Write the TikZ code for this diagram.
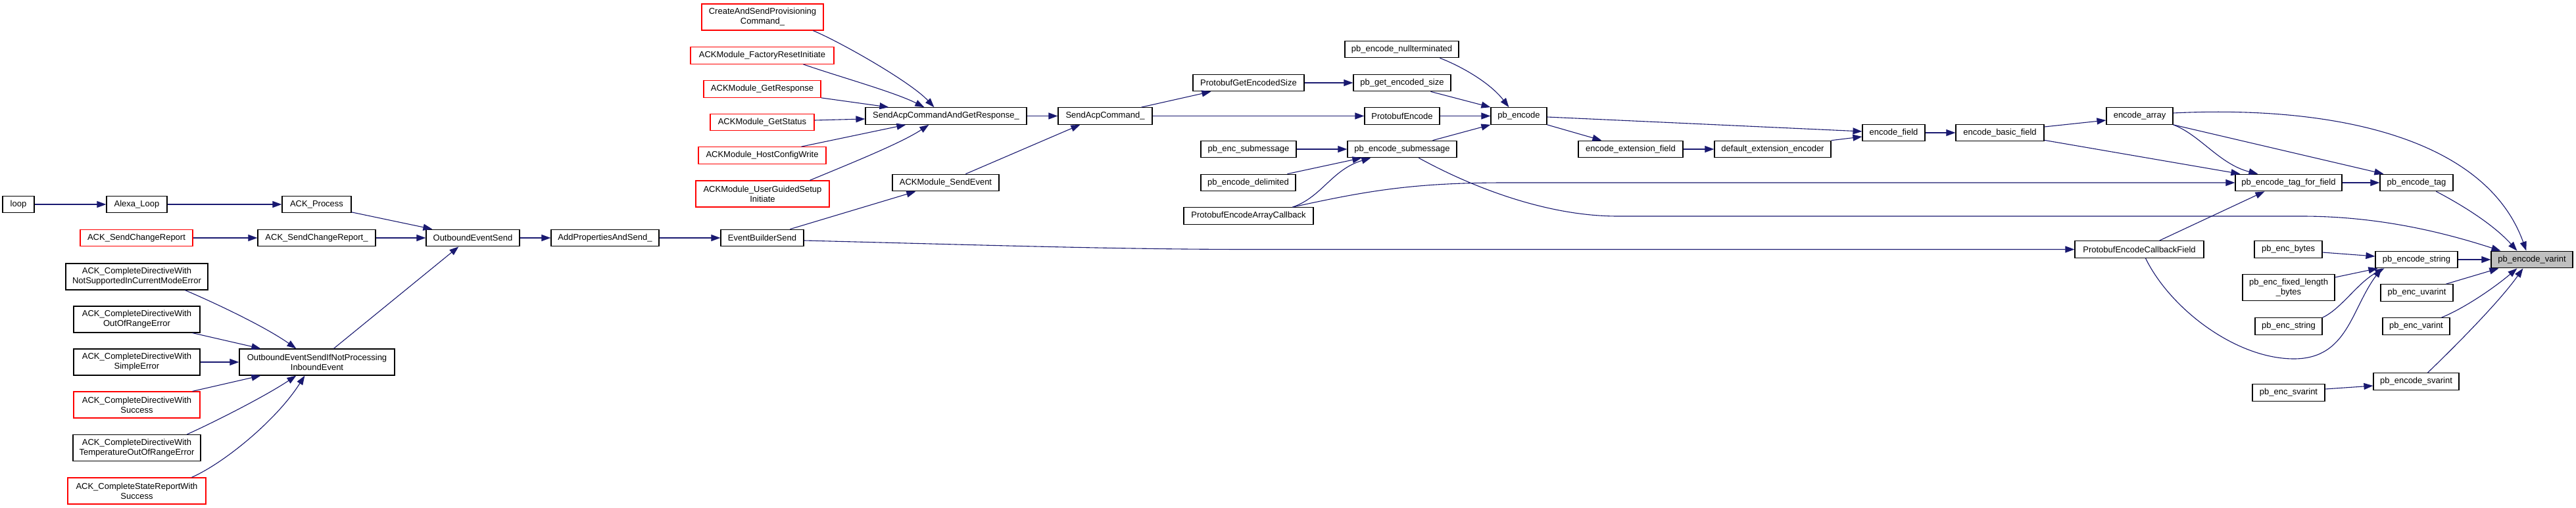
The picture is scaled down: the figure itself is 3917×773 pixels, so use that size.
\documentclass[tikz,border=0pt]{standalone}
\usepackage{fontspec}
\setmainfont{Liberation Sans}
\usetikzlibrary{arrows.meta}
\definecolor{edgeblue}{RGB}{25,25,112}
\definecolor{nodegray}{RGB}{191,191,191}
\begin{document}
\begin{tikzpicture}[x=1pt,y=-1pt,
  box/.style={draw=black,fill=white,line width=1.2pt,inner sep=0pt,font=\fontsize{13}{15}\selectfont,align=center,minimum height=25.5pt},
  redbox/.style={box,draw=red},
  tall/.style={minimum height=40pt},
  rootbox/.style={box,fill=nodegray},
  caller/.style={draw=edgeblue,line width=1.1pt,-{Triangle[length=14pt,width=10pt]}},
]
\fill[white] (0,0) rectangle (3917,773);
\useasboundingbox (0,0) rectangle (3917,773);

% left part
\node[box,minimum width=48pt] (loop) at (28,311) {loop};
\node[box,minimum width=92pt] (alexa) at (208,311) {Alexa\_Loop};
\node[box,minimum width=105pt] (ackproc) at (481.5,311) {ACK\_Process};
\node[redbox,minimum width=171pt] (acksend) at (207.5,362) {ACK\_SendChangeReport};
\node[box,minimum width=179pt] (acksendu) at (481.5,362) {ACK\_SendChangeReport\_};
\node[box,tall,minimum width=216pt] (cdNS) at (208,421) {ACK\_CompleteDirectiveWith\\NotSupportedInCurrentModeError};
\node[box,tall,minimum width=192pt] (cdOOR) at (208,486) {ACK\_CompleteDirectiveWith\\OutOfRangeError};
\node[box,tall,minimum width=192pt] (cdSE) at (208,551) {ACK\_CompleteDirectiveWith\\SimpleError};
\node[redbox,tall,minimum width=192pt] (cdSU) at (208,616) {ACK\_CompleteDirectiveWith\\Success};
\node[box,tall,minimum width=194pt] (cdTO) at (208,681.5) {ACK\_CompleteDirectiveWith\\TemperatureOutOfRangeError};
\node[redbox,tall,minimum width=210pt] (csrS) at (208,747) {ACK\_CompleteStateReportWith\\Success};
\node[box,tall,minimum width=236pt] (oesi) at (482,551) {OutboundEventSendIfNotProcessing\\InboundEvent};
\node[box,minimum width=142pt] (oes) at (719,362) {OutboundEventSend};
\node[box,minimum width=164pt] (apas) at (920,362) {AddPropertiesAndSend\_};
\node[box,minimum width=126pt] (ebs) at (1159,362) {EventBuilderSend};

% ACK module part
\node[redbox,tall,minimum width=185pt] (casp) at (1159.5,26) {CreateAndSendProvisioning\\Command\_};
\node[redbox,minimum width=218pt] (amfr) at (1159,84.5) {ACKModule\_FactoryResetInitiate};
\node[redbox,minimum width=178pt] (amgr) at (1159,135.5) {ACKModule\_GetResponse};
\node[redbox,minimum width=158pt] (amgs) at (1159,186) {ACKModule\_GetStatus};
\node[redbox,minimum width=194pt] (amhc) at (1159,236.5) {ACKModule\_HostConfigWrite};
\node[redbox,tall,minimum width=203pt] (amug) at (1159.5,295) {ACKModule\_UserGuidedSetup\\Initiate};
\node[box,minimum width=245pt] (sacgr) at (1438.5,176.5) {SendAcpCommandAndGetResponse\_};
\node[box,minimum width=162pt] (amse) at (1438,278) {ACKModule\_SendEvent};
\node[box,minimum width=143pt] (sac) at (1680.5,176.5) {SendAcpCommand\_};

% protobuf part
\node[box,minimum width=169pt] (pges) at (1898.5,126) {ProtobufGetEncodedSize};
\node[box,minimum width=114pt] (pbenc) at (2132,176.5) {ProtobufEncode};
\node[box,minimum width=173pt] (pbnt) at (2131.5,75) {pb\_encode\_nullterminated};
\node[box,minimum width=148pt] (pbges) at (2132,126) {pb\_get\_encoded\_size};
\node[box,minimum width=85pt] (pbe) at (2309.5,176.5) {pb\_encode};
\node[box,minimum width=145pt] (pencsub) at (1898.5,227) {pb\_enc\_submessage};
\node[box,minimum width=166pt] (pesub) at (2132,227) {pb\_encode\_submessage};
\node[box,minimum width=144pt] (pedel) at (1898,278) {pb\_encode\_delimited};
\node[box,minimum width=197pt] (peac) at (1898.5,328.5) {ProtobufEncodeArrayCallback};
\node[box,minimum width=159pt] (eef) at (2479.5,227) {encode\_extension\_field};
\node[box,minimum width=177pt] (dee) at (2695.5,227) {default\_extension\_encoder};
\node[box,minimum width=95pt] (ef) at (2879.5,202) {encode\_field};
\node[box,minimum width=134pt] (ebf) at (3041,202) {encode\_basic\_field};
\node[box,minimum width=101pt] (ea) at (3253.5,176.5) {encode\_array};
\node[box,minimum width=162pt] (petff) at (3480,278) {pb\_encode\_tag\_for\_field};
\node[box,minimum width=111pt] (pet) at (3674.5,278) {pb\_encode\_tag};
\node[box,minimum width=196pt] (pecf) at (3253,379.5) {ProtobufEncodeCallbackField};
\node[box,minimum width=103pt] (pebytes) at (3479.5,379.5) {pb\_enc\_bytes};
\node[box,minimum width=125pt] (pestr) at (3674.5,395) {pb\_encode\_string};
\node[rootbox,minimum width=124pt] (pbv) at (3850,395) {pb\_encode\_varint};
\node[box,tall,minimum width=140pt] (pefix) at (3480,437.5) {pb\_enc\_fixed\_length\\\_bytes};
\node[box,minimum width=110pt] (peuv) at (3675,445.5) {pb\_enc\_uvarint};
\node[box,minimum width=102pt] (pestring) at (3480,496.5) {pb\_enc\_string};
\node[box,minimum width=102pt] (pevar) at (3674,496.5) {pb\_enc\_varint};
\node[box,minimum width=130pt] (pesv) at (3674,580.5) {pb\_encode\_svarint};
\node[box,minimum width=110pt] (pencsv) at (3480,597.5) {pb\_enc\_svarint};

% edges: left part
\draw[caller] (loop.east) -- (alexa.west);
\draw[caller] (alexa.east) -- (ackproc.west);
\draw[caller] ([yshift=1.5pt]ackproc.south east) -- ([xshift=10pt]oes.north west);
\draw[caller] (acksend.east) -- (acksendu.west);
\draw[caller] (acksendu.east) -- (oes.west);
\draw[caller] ([xshift=182pt]cdNS.south west) .. controls (320,458) and (400,495) .. ([xshift=87pt]oesi.north west);
\draw[caller] ([xshift=-12pt]cdOOR.south east) -- ([xshift=33pt]oesi.north west);
\draw[caller] (cdSE.east) -- (oesi.west);
\draw[caller] ([xshift=-12pt]cdSU.north east) -- ([xshift=33pt]oesi.south west);
\draw[caller] ([xshift=174pt]cdTO.north west) .. controls (320,645) and (400,605) .. ([xshift=87pt]oesi.south west);
\draw[caller] ([xshift=189pt]csrS.north west) .. controls (340,705) and (420,640) .. ([xshift=100pt]oesi.south west);
\draw[caller] ([xshift=144pt]oesi.north west) -- ([xshift=50pt]oes.south west);
\draw[caller] (oes.east) -- (apas.west);
\draw[caller] (apas.east) -- (ebs.west);
\draw[caller] ([xshift=106pt]ebs.north west) -- ([xshift=36pt]amse.south west);
\draw[caller] ([yshift=-4pt]ebs.east) .. controls (1500,373) and (1700,379.5) .. (1900,379.5) -- (pecf.west);

% edges: ACK module part
\draw[caller] ([xshift=170pt]casp.south west) .. controls (1280,65) and (1385,125) .. ([xshift=105pt]sacgr.north west);
\draw[caller] ([xshift=172pt]amfr.south west) .. controls (1270,115) and (1360,140) .. ([xshift=90pt]sacgr.north west);
\draw[caller] (amgr.south east) -- ([xshift=36pt]sacgr.north west);
\draw[caller] ([yshift=3pt]amgs.east) -- ([yshift=-4.5pt]sacgr.west);
\draw[caller] ([xshift=157pt]amhc.north west) -- ([xshift=62pt]sacgr.south west);
\draw[caller] ([xshift=174pt]amug.north west) .. controls (1290,250) and (1370,218) .. ([xshift=97pt]sacgr.south west);
\draw[caller] (sacgr.east) -- (sac.west);
\draw[caller] ([xshift=112pt]amse.north west) -- ([xshift=34pt]sac.south west);
\draw[caller] ([xshift=127pt]sac.north west) -- ([xshift=28pt]pges.south west);
\draw[caller] (sac.east) -- (pbenc.west);

% edges: protobuf part
\draw[caller] (pges.east) -- (pbges.west);
\draw[caller] ([xshift=118pt]pbges.south west) -- (pbe.north west);
\draw[caller] ([xshift=145pt]pbnt.south west) .. controls (2220,100) and (2265,125) .. ([xshift=28pt]pbe.north west);
\draw[caller] (pbenc.east) -- (pbe.west);
\draw[caller] ([xshift=130pt]pesub.north west) -- (pbe.south west);
\draw[caller] (pencsub.east) -- (pesub.west);
\draw[caller] ([xshift=132pt]pedel.north west) -- ([xshift=22pt]pesub.south west);
\draw[caller] ([xshift=166pt]peac.north west) .. controls (2010,300) and (2025,258) .. ([xshift=36pt]pesub.south west);
\draw[caller] ([xshift=166pt]peac.north west) .. controls (2080,290) and (2150,278) .. (2290,278) -- (petff.west);
\draw[caller] ([xshift=109pt]pesub.south west) .. controls (2220,275) and (2340,329) .. (2460,329) -- (3500,329) .. controls (3620,329) and (3720,355) .. ([xshift=15pt]pbv.north west);
\draw[caller] ([yshift=-1.5pt]pbe.east) -- ([yshift=2pt]ef.west);
\draw[caller] (pbe.south east) -- ([xshift=36pt]eef.north west);
\draw[caller] (eef.east) -- (dee.west);
\draw[caller] (dee.north east) -- ([yshift=-6pt]ef.west);
\draw[caller] (ef.east) -- (ebf.west);
\draw[caller] ([yshift=9pt]ebf.east) -- ([yshift=-6.5pt]ea.west);
\draw[caller] ([yshift=2pt]ebf.south east) -- ([xshift=8pt]petff.north west);
\draw[caller] (ea.south east) .. controls (3345,205) and (3375,250) .. ([xshift=35pt]petff.north west);
\draw[caller] (ea.south east) -- ([xshift=6pt]pet.north west);
\draw[caller] ([yshift=4.5pt]ea.east) .. controls (3550,160) and (3780,210) .. ([xshift=54pt]pbv.north west);
\draw[caller] (petff.east) -- (pet.west);
\draw[caller] ([xshift=86pt]pet.south west) .. controls (3740,310) and (3790,340) .. ([xshift=40pt]pbv.north west);
\draw[caller] ([xshift=129pt]pecf.north west) -- ([xshift=45pt]petff.south west);
\draw[caller] ([xshift=108pt]pecf.south west) .. controls (3300,470) and (3400,546) .. (3488,546) .. controls (3570,546) and (3575,470) .. ([xshift=10pt]pestr.south west);
\draw[caller] ([yshift=-4.5pt]pebytes.east) -- ([yshift=5pt]pestr.west);
\draw[caller] (pestr.east) -- (pbv.west);
\draw[caller] ([yshift=15.5pt]pefix.east) -- ([xshift=4pt]pestr.south west);
\draw[caller] (pestring.north east) .. controls (3560,470) and (3585,430) .. ([xshift=14pt]pestr.south west);
\draw[caller] ([xshift=100pt]peuv.north west) -- ([xshift=12pt]pbv.south west);
\draw[caller] ([xshift=90pt]pevar.north west) .. controls (3745,470) and (3790,440) .. ([xshift=40pt]pbv.south west);
\draw[caller] ([xshift=83pt]pesv.north west) .. controls (3730,530) and (3800,460) .. ([xshift=49pt]pbv.south west);
\draw[caller] ([yshift=5.5pt]pencsv.east) -- ([yshift=-6.5pt]pesv.west);
\end{tikzpicture}
\end{document}
